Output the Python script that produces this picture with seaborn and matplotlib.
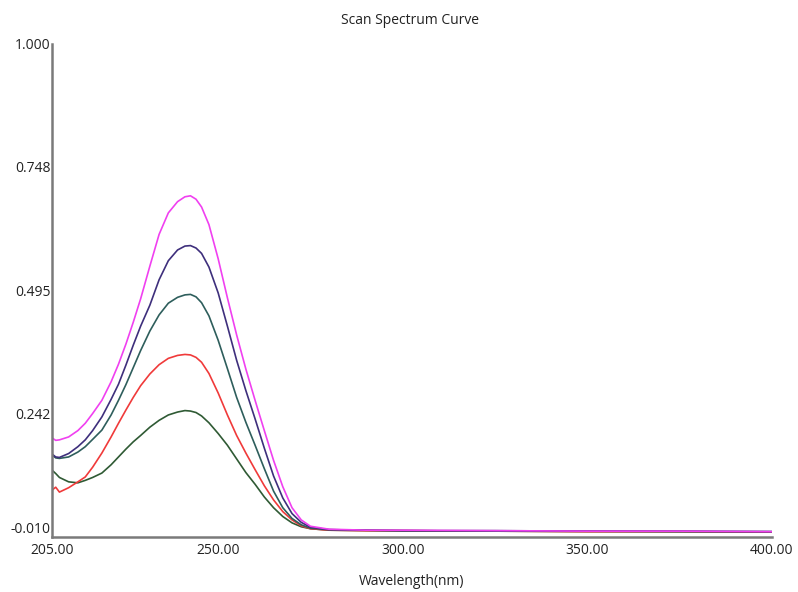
import pandas as pd
import matplotlib
matplotlib.use("Agg")
import matplotlib.pyplot as plt
import seaborn as sns

wavelength = [205, 206, 207, 209.5, 212, 214, 216, 218.5, 221, 223,
              225, 227, 229, 231.5, 234, 236.5, 239, 241, 242.5, 244,
              245.5, 247.5, 250, 252.5, 255, 257.5, 260, 262.5, 265, 267.5,
              270, 272.5, 275, 280, 290, 300, 325, 350, 375, 400]

magenta = [0.193, 0.188, 0.189, 0.195, 0.208, 0.223, 0.243, 0.270, 0.308, 0.344,
           0.385, 0.430, 0.478, 0.545, 0.610, 0.654, 0.677, 0.687, 0.689, 0.682,
           0.666, 0.630, 0.560, 0.480, 0.404, 0.334, 0.270, 0.208, 0.147, 0.093,
           0.050, 0.025, 0.012, 0.006, 0.004, 0.004, 0.003, 0.002, 0.002, 0.001]
purple = [0.160, 0.154, 0.153, 0.161, 0.175, 0.189, 0.208, 0.236, 0.272, 0.303,
          0.342, 0.383, 0.422, 0.465, 0.517, 0.556, 0.578, 0.586, 0.587, 0.582,
          0.571, 0.543, 0.490, 0.422, 0.352, 0.290, 0.232, 0.172, 0.115, 0.070,
          0.038, 0.020, 0.010, 0.005, 0.004, 0.003, 0.003, 0.002, 0.002, 0.001]
teal = [0.158, 0.152, 0.151, 0.154, 0.164, 0.175, 0.190, 0.209, 0.240, 0.270,
        0.302, 0.337, 0.372, 0.412, 0.445, 0.469, 0.481, 0.486, 0.487, 0.482,
        0.470, 0.443, 0.393, 0.335, 0.276, 0.225, 0.178, 0.130, 0.084, 0.050,
        0.028, 0.015, 0.008, 0.005, 0.004, 0.003, 0.002, 0.002, 0.001, 0.001]
red = [0.086, 0.092, 0.082, 0.091, 0.103, 0.113, 0.133, 0.162, 0.195, 0.223,
       0.250, 0.276, 0.300, 0.324, 0.343, 0.356, 0.362, 0.364, 0.363, 0.358,
       0.348, 0.325, 0.285, 0.240, 0.198, 0.162, 0.128, 0.095, 0.066, 0.042,
       0.025, 0.013, 0.007, 0.004, 0.003, 0.003, 0.002, 0.001, 0.001, 0.000]
dark_green = [0.127, 0.120, 0.112, 0.103, 0.101, 0.106, 0.112, 0.121, 0.138, 0.154,
              0.170, 0.185, 0.198, 0.215, 0.229, 0.240, 0.246, 0.249, 0.248, 0.245,
              0.238, 0.224, 0.202, 0.178, 0.150, 0.122, 0.098, 0.072, 0.050, 0.032,
              0.019, 0.011, 0.007, 0.004, 0.003, 0.003, 0.002, 0.001, 0.001, 0.000]

y_ticks = [-0.010, 0.242, 0.495, 0.748, 1.000]
x_ticks = [205, 250, 300, 350, 400]

series = {"s1": magenta, "s2": purple, "s3": teal, "s4": red, "s5": dark_green}
colors = {"s1": "#f040f0", "s2": "#3e2f7c", "s3": "#2e5e5c", "s4": "#f03a3a", "s5": "#2f5a34"}

df = pd.concat([pd.DataFrame({"wl": wavelength, "abs": v, "s": k}) for k, v in series.items()])

sns.set_style("white")
plt.rcParams["font.family"] = ["Open Sans", "DejaVu Sans"]

fig = plt.figure(figsize=(7.98, 5.92), dpi=100)
ax = fig.add_axes([0.0652, 0.0929, 0.9022, 0.8328])

sns.lineplot(data=df, x="wl", y="abs", hue="s", palette=colors, linewidth=1.2,
             legend=False, ax=ax, hue_order=list(series)[::-1])

ax.set_xlim(205, 400)
ax.set_ylim(-0.010, 1.000)
ax.set_xticks(x_ticks)
ax.set_xticklabels([f"{t:.2f}" for t in x_ticks])
ax.set_yticks(y_ticks)
ax.set_yticklabels([f"{t:.3f}" for t in y_ticks])
ax.tick_params(direction="in", length=6, width=1, colors="#333333", labelsize=10,
               labelcolor="#222222", pad=4)
ax.tick_params(axis="y", pad=1)
ax.get_yticklabels()[0].set_verticalalignment("bottom")

for side in ["top", "right"]:
    ax.spines[side].set_visible(False)
for side in ["left", "bottom"]:
    ax.spines[side].set_color("#7a7a7a")
    ax.spines[side].set_linewidth(1.8)

ax.set_xlabel("Wavelength(nm)", fontsize=10, color="#222222", labelpad=12)
ax.set_ylabel("")
fig.text(0.514, 0.965, "Scan Spectrum Curve", ha="center", va="center",
         fontsize=10, color="#222222")

fig.savefig("out.png", dpi=100)
